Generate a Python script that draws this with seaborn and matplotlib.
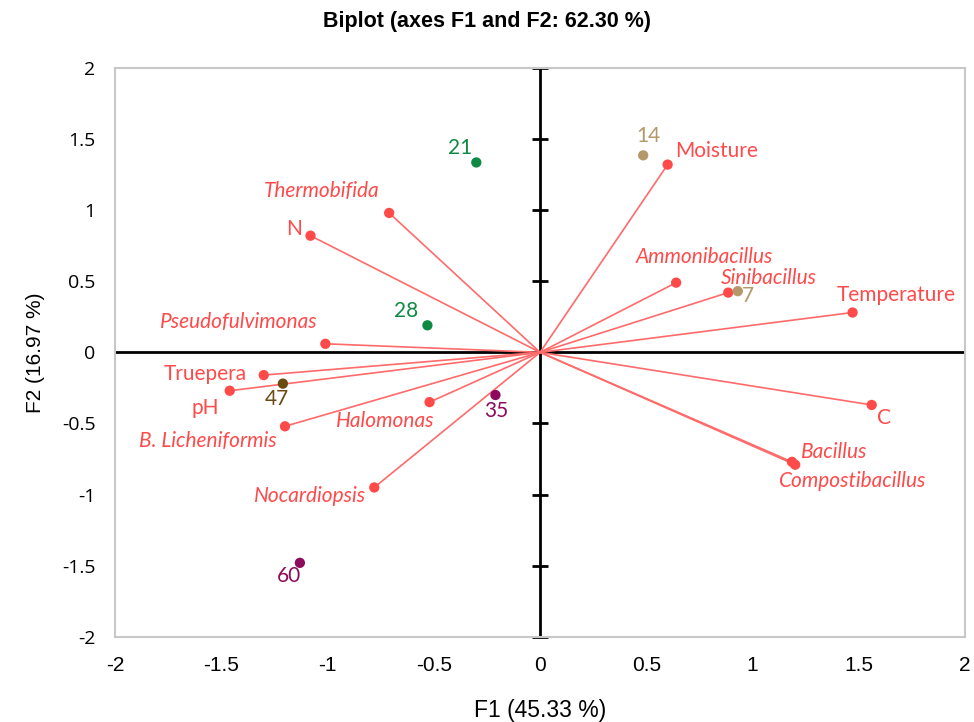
import pandas as pd
import matplotlib.pyplot as plt
import seaborn as sns

# Variables (vectors)
var_names = ['Moisture', 'Thermobifida', 'N', 'Ammonibacillus', 'Sinibacillus',
             'Temperature', 'Pseudofulvimonas', 'Truepera', 'pH', 'Halomonas',
             'B. Licheniformis', 'C', 'Bacillus', 'Compostibacillus', 'Nocardiopsis']
var_f1 = [0.60, -0.71, -1.08, 0.64, 0.885, 1.47, -1.01, -1.30, -1.46, -0.52,
          -1.20, 1.56, 1.185, 1.20, -0.78]
var_f2 = [1.32, 0.98, 0.82, 0.49, 0.42, 0.28, 0.06, -0.16, -0.27, -0.35,
          -0.52, -0.37, -0.77, -0.79, -0.95]
var_italic = [False, True, False, True, True, False, True, False, False, True,
              True, False, True, True, True]
# label offsets in pixels (dx, dy) and alignment
var_offset = [(7, 14), (-10, 22), (-9, 7), (28, 26), (-7, 15), (-16, 18),
              (-8, 22), (-17, 1), (-11, -17), (5, -19), (-8, -15),
              (5, -13), (9, 10), (-16, -16), (-8, -9)]
var_ha = ['left', 'right', 'right', 'center', 'left', 'left', 'right', 'right',
          'right', 'right', 'right', 'left', 'left', 'left', 'right']

# Observations (days)
obs_names = ['14', '21', '28', '7', '47', '35', '60']
obs_f1 = [0.485, -0.30, -0.53, 0.93, -1.21, -0.21, -1.13]
obs_f2 = [1.385, 1.335, 0.19, 0.43, -0.22, -0.30, -1.48]
obs_colors = ['#B5986A', '#0E8A43', '#0E8A43', '#B5986A', '#6B4A12', '#8E0A5C', '#8E0A5C']
obs_offset = [(5, 19), (-16, 14), (-21, 14), (10, -5), (-6, -15), (1, -16), (-11, -13)]

red = '#FF4A4A'
line_red = '#FF6A6A'

sns.set_style('white')
plt.rcParams['font.family'] = ['Lato', 'DejaVu Sans']

fig = plt.figure(figsize=(9.74, 7.22), dpi=100)
ax = fig.add_axes([0.118, 0.118, 0.873, 0.788])

# central axes
ax.axhline(0, color='black', lw=2, zorder=1)
ax.axvline(0, color='black', lw=2, zorder=1)
yt = [-2, -1.5, -1, -0.5, 0.5, 1, 1.5, 2]
ax.plot([0] * len(yt), yt, ls='none', marker='_', ms=11, mew=2, color='black',
        zorder=1, clip_on=False)

# vectors
for x, y in zip(var_f1, var_f2):
    ax.plot([0, x], [0, y], color=line_red, lw=1.2, zorder=2)
vdf = pd.DataFrame({'F1': var_f1, 'F2': var_f2})
sns.scatterplot(data=vdf, x='F1', y='F2', color=red, s=55, edgecolor='none',
                ax=ax, zorder=3)
for name, x, y, it, off, ha in zip(var_names, var_f1, var_f2, var_italic,
                                    var_offset, var_ha):
    ax.annotate(name, (x, y), xytext=off, textcoords='offset pixels',
                ha=ha, va='center', color=red, fontsize=15,
                style='italic' if it else 'normal', zorder=4)

# observations
odf = pd.DataFrame({'F1': obs_f1, 'F2': obs_f2, 'day': obs_names})
sns.scatterplot(data=odf, x='F1', y='F2', hue='day', palette=obs_colors,
                s=55, edgecolor='none', ax=ax, zorder=3, legend=False)
for name, x, y, c, off in zip(obs_names, obs_f1, obs_f2, obs_colors, obs_offset):
    ax.annotate(name, (x, y), xytext=off, textcoords='offset pixels',
                ha='center', va='center', color=c, fontsize=15, zorder=4)

ax.set_xlim(-2, 2)
ax.set_ylim(-2, 2)
ticks = [-2, -1.5, -1, -0.5, 0, 0.5, 1, 1.5, 2]
ax.set_xticks(ticks)
ax.set_yticks(ticks)
ax.set_xticklabels(['-2', '-1.5', '-1', '-0.5', '0', '0.5', '1', '1.5', '2'],
                   family='Liberation Sans', fontsize=15, color='black')
ax.set_yticklabels(['-2', '-1.5', '-1', '-0.5', '0', '0.5', '1', '1.5', '2'],
                   family='Open Sans', fontsize=14, color='black')
ax.tick_params(length=0, pad=14)
for s in ax.spines.values():
    s.set_color('#C8C8C8')
    s.set_linewidth(1.5)

ax.set_xlabel('F1 (45.33 %)', family='Liberation Sans', fontsize=16.5,
              labelpad=17, color='black')
ax.set_ylabel('F2 (16.97 %)', family='Liberation Sans', fontsize=15, labelpad=12,
              color='black')
fig.suptitle('Biplot (axes F1 and F2: 62.30 %)', family='Liberation Sans',
             fontweight='bold', fontsize=15.5, y=0.985, color='black')

fig.savefig('out.png', dpi=100)
